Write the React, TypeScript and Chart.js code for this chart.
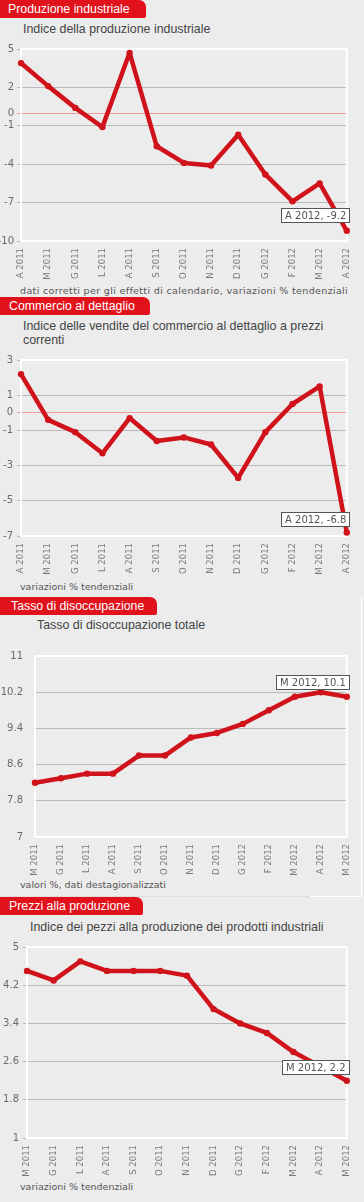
import React, { useEffect, useRef } from "react";
import { Chart, registerables } from "chart.js";
Chart.register(...registerables);

const RED_LINE = "#d0121b";
const RED_TAB = "#e1121b";
const BG = "#ececec";

// Panel 1 – Produzione industriale
const labels1 = ["A 2011", "M 2011", "G 2011", "L 2011", "A 2011", "S 2011", "O 2011", "N 2011", "D 2011", "G 2012", "F 2012", "M 2012", "A 2012"];
const values1 = [3.9, 2.1, 0.4, -1.1, 4.7, -2.6, -3.9, -4.1, -1.7, -4.8, -6.9, -5.5, -9.2];
const ticks1 = [5, 2, 0, -1, -4, -7, -10];

// Panel 2 – Commercio al dettaglio
const labels2 = ["A 2011", "M 2011", "G 2011", "L 2011", "A 2011", "S 2011", "O 2011", "N 2011", "D 2011", "G 2012", "F 2012", "M 2012", "A 2012"];
const values2 = [2.2, -0.4, -1.1, -2.3, -0.3, -1.6, -1.4, -1.8, -3.7, -1.1, 0.5, 1.5, -6.8];
const ticks2 = [3, 1, 0, -1, -3, -5, -7];

// Panel 3 – Tasso di disoccupazione
const labels3 = ["M 2011", "G 2011", "L 2011", "A 2011", "S 2011", "O 2011", "N 2011", "D 2011", "G 2012", "F 2012", "M 2012", "A 2012", "M 2012"];
const values3 = [8.2, 8.3, 8.4, 8.4, 8.8, 8.8, 9.2, 9.3, 9.5, 9.8, 10.1, 10.2, 10.1];
const ticks3 = [11, 10.2, 9.4, 8.6, 7.8, 7];

// Panel 4 – Prezzi alla produzione
const labels4 = ["M 2011", "G 2011", "L 2011", "A 2011", "S 2011", "O 2011", "N 2011", "D 2011", "G 2012", "F 2012", "M 2012", "A 2012", "M 2012"];
const values4 = [4.5, 4.3, 4.7, 4.5, 4.5, 4.5, 4.4, 3.7, 3.4, 3.2, 2.8, 2.5, 2.2];
const ticks4 = [5, 4.2, 3.4, 2.6, 1.8, 1];

type PanelCfg = {
  labels: string[];
  values: number[];
  ticks: number[];
  top: number;
  height: number;
  padTop: number;
  left: number;
  right: number;
  xh: number;
  tickPad: number;
  tickLen: number;
  tipOff: number;
};

const framePlugin = {
  id: "frame",
  beforeDatasetsDraw(chart: any) {
    const a = chart.chartArea;
    const ctx = chart.ctx;
    ctx.save();
    ctx.strokeStyle = "#ffffff";
    ctx.lineWidth = 2;
    ctx.strokeRect(a.left, a.top, a.right - a.left, a.bottom - a.top);
    ctx.restore();
  },
};

const tipPlugin = {
  id: "tip",
  afterDraw(chart: any, _args: any, opts: any) {
    const meta = chart.getDatasetMeta(0);
    const n = meta.data.length;
    const pt = meta.data[n - 1];
    const labels = chart.data.labels;
    const vals = chart.data.datasets[0].data;
    const text = `${labels[n - 1]}, ${vals[n - 1]}`;
    const ctx = chart.ctx;
    ctx.save();
    ctx.font = '10px "DejaVu Sans"';
    const w = Math.round(ctx.measureText(text).width) + 8;
    const h = 15;
    const right = Math.round(pt.x) + 3;
    const bottom = Math.round(pt.y) - opts.off;
    const x = right - w;
    const y = bottom - h;
    ctx.fillStyle = "#ffffff";
    ctx.fillRect(x, y, w, h);
    ctx.strokeStyle = "#555555";
    ctx.lineWidth = 1;
    ctx.strokeRect(x + 0.5, y + 0.5, w - 1, h - 1);
    ctx.fillStyle = "#555555";
    ctx.textBaseline = "middle";
    ctx.textAlign = "left";
    ctx.fillText(text, x + 4, y + h / 2 + 0.5);
    ctx.restore();
  },
};

function LineChart({ cfg }: { cfg: PanelCfg }) {
  const ref = useRef<HTMLCanvasElement | null>(null);
  useEffect(() => {
    if (!ref.current) return;
    const min = Math.min(...cfg.ticks);
    const max = Math.max(...cfg.ticks);
    const chart = new Chart(ref.current, {
      type: "line",
      data: {
        labels: cfg.labels,
        datasets: [
          {
            data: cfg.values,
            borderColor: RED_LINE,
            backgroundColor: RED_LINE,
            borderWidth: 4.5,
            pointRadius: 3.2,
            pointBorderWidth: 0,
            pointBackgroundColor: RED_LINE,
            tension: 0,
            borderJoinStyle: "round",
            clip: false,
          } as any,
        ],
      },
      options: {
        responsive: false,
        animation: false,
        devicePixelRatio: 1,
        layout: { padding: { top: cfg.padTop, right: 364 - cfg.right, left: 0, bottom: 0 } },
        plugins: {
          legend: { display: false },
          tooltip: { enabled: false },
          title: { display: false },
          tip: { off: cfg.tipOff },
        } as any,
        scales: {
          x: {
            type: "category",
            offset: false,
            grid: { display: false, drawTicks: false },
            border: { display: false },
            ticks: {
              autoSkip: false,
              minRotation: 90,
              maxRotation: 90,
              padding: 7,
              color: "#7a7a7a",
              font: { family: "DejaVu Sans", size: 8.5 },
            },
            afterFit: (s: any) => {
              s.height = cfg.xh;
            },
          },
          y: {
            type: "linear",
            min,
            max,
            afterBuildTicks: (s: any) => {
              s.ticks = cfg.ticks.map((v) => ({ value: v }));
            },
            afterFit: (s: any) => {
              s.width = cfg.left;
            },
            grid: {
              color: (c: any) => (c.tick && c.tick.value === 0 ? "#f19a9a" : "#b9b9b9"),
              tickColor: (c: any) => (c.tick && c.tick.value === 0 ? "#f19a9a" : "#b9b9b9"),
              tickLength: cfg.tickLen,
              drawTicks: cfg.tickLen > 0,
              lineWidth: 1,
            },
            border: { display: false },
            ticks: {
              padding: cfg.tickPad,
              color: "#6a6a6a",
              font: { family: "DejaVu Sans", size: 10 },
              callback: (v: any) => String(v),
            },
          },
        },
      } as any,
      plugins: [framePlugin, tipPlugin],
    });
    return () => chart.destroy();
  }, []);
  return (
    <canvas
      ref={ref}
      width={364}
      height={cfg.height}
      style={{ position: "absolute", left: 0, top: cfg.top, width: 364, height: cfg.height }}
    />
  );
}

const tabStyle = (top: number, w: number, padL: number): React.CSSProperties => ({
  position: "absolute",
  left: 0,
  top,
  width: w,
  height: 18,
  background: RED_TAB,
  borderTopRightRadius: 7,
  borderBottomRightRadius: 2,
  color: "#ffffff",
  fontFamily: '"Liberation Sans", Arial, sans-serif',
  fontSize: 12.3,
  lineHeight: "18px",
  paddingLeft: padL,
  boxSizing: "border-box",
  whiteSpace: "nowrap",
});

const subStyle = (top: number, left: number, lh = 16): React.CSSProperties => ({
  position: "absolute",
  left,
  top,
  color: "#444444",
  fontFamily: '"Liberation Sans", Arial, sans-serif',
  fontSize: 12.4,
  lineHeight: lh + "px",
  whiteSpace: "nowrap",
});

const noteStyle = (top: number, ls = 0): React.CSSProperties => ({
  position: "absolute",
  left: 20,
  top,
  color: "#555555",
  fontFamily: '"DejaVu Sans", Verdana, sans-serif',
  fontSize: 9.5,
  lineHeight: "12px",
  letterSpacing: ls,
  whiteSpace: "nowrap",
});

const p1: PanelCfg = { labels: labels1, values: values1, ticks: ticks1, top: 40, height: 242, padTop: 8, left: 21, right: 354, xh: 41, tickPad: 3, tickLen: 4, tipOff: 8 };
const p2: PanelCfg = { labels: labels2, values: values2, ticks: ticks2, top: 350, height: 230, padTop: 9, left: 21, right: 354, xh: 44, tickPad: 4, tickLen: 4, tipOff: 5 };
const p3: PanelCfg = { labels: labels3, values: values3, ticks: ticks3, top: 638, height: 240, padTop: 9, left: 35, right: 354, xh: 41, tickPad: 12, tickLen: 0, tipOff: 7 };
const p4: PanelCfg = { labels: labels4, values: values4, ticks: ticks4, top: 937, height: 243, padTop: 9, left: 27, right: 354, xh: 42, tickPad: 4, tickLen: 4, tipOff: 6 };

export default function App() {
  useEffect(() => {
    document.body.style.margin = "0";
    document.body.style.background = BG;
  }, []);
  return (
    <div style={{ position: "absolute", left: 0, top: 0, width: 364, height: 1202, background: BG, overflow: "hidden" }}>
      {/* Panel 1 */}
      <div style={tabStyle(0, 146, 8)}>Produzione industriale</div>
      <div style={subStyle(21, 23)}>Indice della produzione industriale</div>
      <LineChart cfg={p1} />
      <div style={noteStyle(285, 0.35)}>dati corretti per gli effetti di calendario, variazioni % tendenziali</div>

      {/* Panel 2 */}
      <div style={tabStyle(297, 150, 9)}>Commercio al dettaglio</div>
      <div style={subStyle(319, 23, 14)}>
        Indice delle vendite del commercio al dettaglio a prezzi
        <br />
        correnti
      </div>
      <LineChart cfg={p2} />
      <div style={noteStyle(581)}>variazioni % tendenziali</div>

      {/* Panel 3 */}
      <div style={{ position: "absolute", left: 361, top: 597, width: 1, height: 300, background: "#ffffff" }} />
      <div style={{ position: "absolute", left: 0, top: 896, width: 310, height: 1, background: "#dddddd" }} />
      <div style={{ position: "absolute", left: 310, top: 896, width: 52, height: 1, background: "#ffffff" }} />
      <div style={tabStyle(597, 157, 11)}>Tasso di disoccupazione</div>
      <div style={subStyle(617, 37)}>Tasso di disoccupazione totale</div>
      <LineChart cfg={p3} />
      <div style={noteStyle(879)}>valori %, dati destagionalizzati</div>

      {/* Panel 4 */}
      <div style={tabStyle(897, 143, 9)}>Prezzi alla produzione</div>
      <div style={subStyle(919, 30)}>Indice dei pezzi alla produzione dei prodotti industriali</div>
      <LineChart cfg={p4} />
      <div style={noteStyle(1181)}>variazioni % tendenziali</div>
    </div>
  );
}
